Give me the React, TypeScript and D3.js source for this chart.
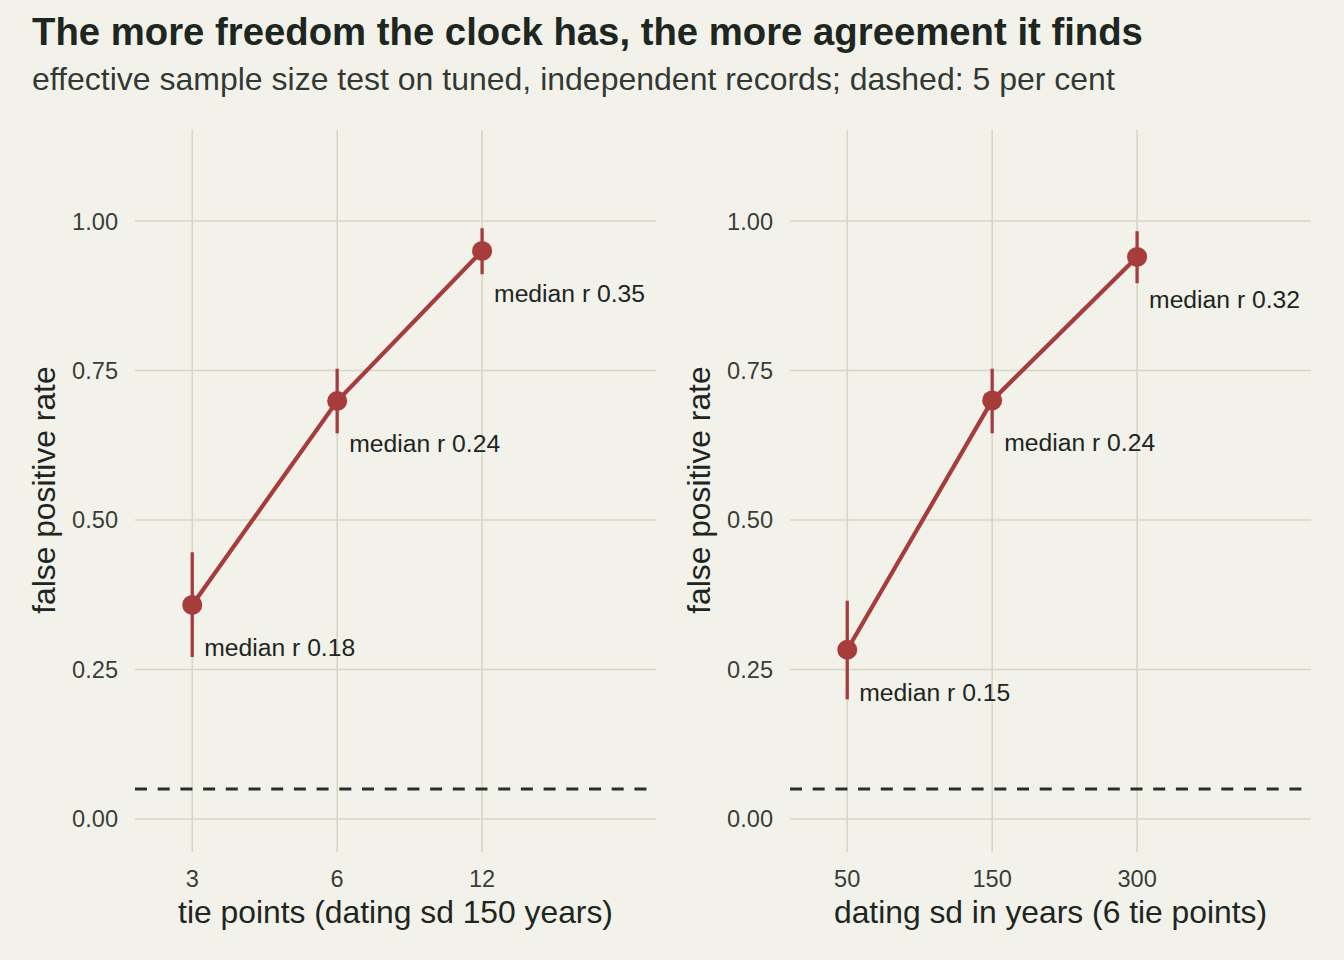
import * as d3 from 'd3';

// left panel: tie points, dating sd fixed at 150 years
const tieLabels = ['3', '6', '12'];
const tieRate = [0.358, 0.699, 0.95];
const tieLow = [0.271, 0.645, 0.911];
const tieHigh = [0.446, 0.753, 0.988];
const tieMedianR = ['0.18', '0.24', '0.35'];

// right panel: dating sd in years, 6 tie points
const sdLabels = ['50', '150', '300'];
const sdRate = [0.283, 0.7, 0.94];
const sdLow = [0.2, 0.645, 0.896];
const sdHigh = [0.365, 0.753, 0.983];
const sdMedianR = ['0.15', '0.24', '0.32'];

const yTicks = [0, 0.25, 0.5, 0.75, 1];
const NOMINAL = 0.05;

const WIDTH = 1344;
const HEIGHT = 960;
const BG = '#f2f1ea';
const GRID = '#d7d7c6';
const INK = '#1d2621';
const RED = '#a63c3c';
const FONT = '"Liberation Sans", Arial, Helvetica, sans-serif';

type PanelProps = {
    left: number;
    labels: string[];
    rate: number[];
    low: number[];
    high: number[];
    medianR: string[];
    xTitle: string;
};

const y = d3.scaleLinear().domain([-0.0552, 1.1522]).range([852, 130]);

function Panel({ left, labels, rate, low, high, medianR, xTitle }: PanelProps) {
    const panelWidth = 521;
    const x = d3.scaleLinear().domain([-0.395, 3.2]).range([left, left + panelWidth]);
    const idx = labels.map((_, i) => i);
    const line = d3
        .line<number>()
        .x((i) => x(i))
        .y((i) => y(rate[i]));
    const [x0, x1] = x.range();
    const [yBottom, yTop] = y.range();

    return (
        <g>
            {yTicks.map((t) => (
                <line key={`h${t}`} x1={x0} x2={x1} y1={y(t)} y2={y(t)} stroke={GRID} strokeWidth={1.6} />
            ))}
            {idx.map((i) => (
                <line key={`v${i}`} x1={x(i)} x2={x(i)} y1={yTop} y2={yBottom} stroke={GRID} strokeWidth={1.6} />
            ))}
            {yTicks.map((t) => (
                <text
                    key={`yt${t}`}
                    x={x0 - 17}
                    y={y(t)}
                    dy="0.36em"
                    textAnchor="end"
                    fontSize={23.6}
                    fill={INK}
                    fillOpacity={0.9}
                >
                    {t.toFixed(2)}
                </text>
            ))}
            {labels.map((label, i) => (
                <text key={`xt${i}`} x={x(i)} y={887} textAnchor="middle" fontSize={23.6} fill={INK} fillOpacity={0.9}>
                    {label}
                </text>
            ))}
            <text x={(x0 + x1) / 2} y={923} textAnchor="middle" fontSize={31.8} fill={INK}>
                {xTitle}
            </text>
            <text
                transform={`translate(${left - 80}, ${y(0.55)}) rotate(-90)`}
                textAnchor="middle"
                fontSize={31.8}
                fill={INK}
            >
                false positive rate
            </text>
            <line
                x1={x0}
                x2={x1}
                y1={y(NOMINAL)}
                y2={y(NOMINAL)}
                stroke="#26302b"
                strokeWidth={3}
                strokeDasharray="12 10.7"
            />
            {idx.map((i) => (
                <line
                    key={`e${i}`}
                    x1={x(i)}
                    x2={x(i)}
                    y1={y(low[i])}
                    y2={y(high[i])}
                    stroke={RED}
                    strokeWidth={3.3}
                />
            ))}
            <path d={line(idx) ?? ''} fill="none" stroke={RED} strokeWidth={4.2} />
            {idx.map((i) => (
                <circle key={`p${i}`} cx={x(i)} cy={y(rate[i])} r={10} fill={RED} />
            ))}
            {idx.map((i) => (
                <text key={`m${i}`} x={x(i) + 12} y={y(rate[i]) + 51} fontSize={24.7} fill={INK}>
                    {`median r ${medianR[i]}`}
                </text>
            ))}
        </g>
    );
}

export default function App() {
    return (
        <svg
            width={WIDTH}
            height={HEIGHT}
            viewBox={`0 0 ${WIDTH} ${HEIGHT}`}
            style={{ position: 'absolute', left: 0, top: 0, background: BG, fontFamily: FONT }}
        >
            <rect width={WIDTH} height={HEIGHT} fill={BG} />
            <text x={32} y={45} fontSize={38.3} fontWeight={700} fill={INK}>
                The more freedom the clock has, the more agreement it finds
            </text>
            <text x={32} y={90} fontSize={32} fill={INK} fillOpacity={0.92}>
                effective sample size test on tuned, independent records; dashed: 5 per cent
            </text>
            <Panel
                left={135}
                labels={tieLabels}
                rate={tieRate}
                low={tieLow}
                high={tieHigh}
                medianR={tieMedianR}
                xTitle="tie points (dating sd 150 years)"
            />
            <Panel
                left={790}
                labels={sdLabels}
                rate={sdRate}
                low={sdLow}
                high={sdHigh}
                medianR={sdMedianR}
                xTitle="dating sd in years (6 tie points)"
            />
        </svg>
    );
}
